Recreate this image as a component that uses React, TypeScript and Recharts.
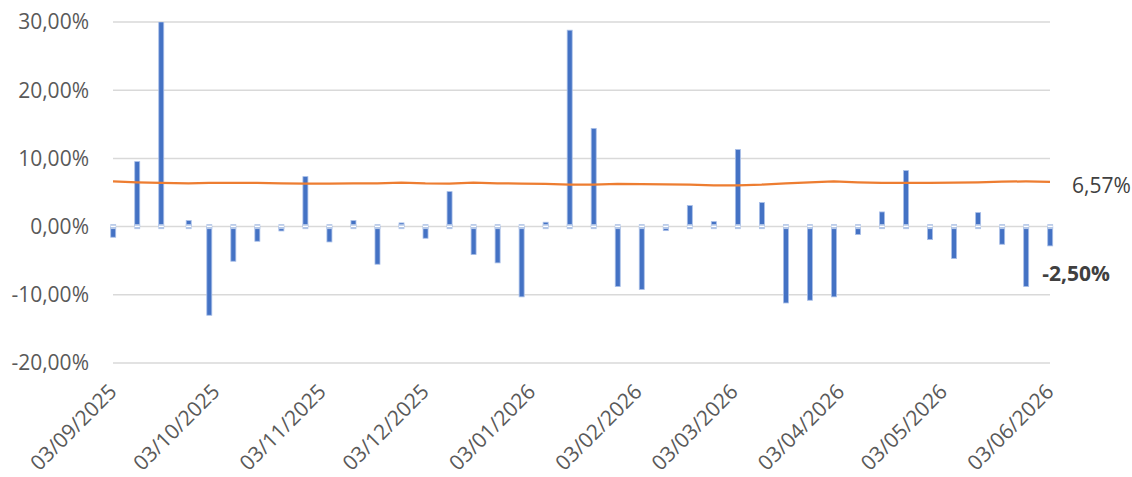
import React from 'react';
import { ComposedChart, Bar, Line, XAxis, YAxis, CartesianGrid, LabelList } from 'recharts';

// weekly observation dates
const weekDates = [
  '2025-09-03', '2025-09-10', '2025-09-17', '2025-09-25', '2025-10-01', '2025-10-08', '2025-10-15', '2025-10-22',
  '2025-10-29', '2025-11-05', '2025-11-12', '2025-11-19', '2025-11-26', '2025-12-03', '2025-12-10', '2025-12-17',
  '2025-12-24', '2025-12-31', '2026-01-07', '2026-01-14', '2026-01-21', '2026-01-28', '2026-02-04', '2026-02-11',
  '2026-02-18', '2026-02-25', '2026-03-04', '2026-03-11', '2026-03-18', '2026-03-25', '2026-04-01', '2026-04-08',
  '2026-04-15', '2026-04-22', '2026-04-29', '2026-05-06', '2026-05-13', '2026-05-20', '2026-05-27', '2026-06-03',
];

// weekly return (%)
const weeklyReturn = [
  -1.56, 9.53, 30.0, 0.88, -13.0, -5.08, -2.15, -0.64,
  7.33, -2.25, 0.88, -5.52, 0.54, -1.71, 5.13, -4.1,
  -5.32, -10.3, 0.64, 28.8, 14.4, -8.79, -9.23, -0.59,
  3.08, 0.73, 11.3, 3.52, -11.2, -10.8, -10.3, -1.17,
  2.15, 8.21, -1.91, -4.69, 2.05, -2.59, -8.79, -2.83,
];

// running average (%)
const avgReturn = [
  6.64, 6.5, 6.4, 6.35, 6.4, 6.42, 6.4, 6.35,
  6.3, 6.3, 6.35, 6.35, 6.45, 6.32, 6.3, 6.45,
  6.35, 6.3, 6.26, 6.16, 6.16, 6.26, 6.24, 6.2,
  6.16, 6.06, 6.06, 6.16, 6.35, 6.5, 6.64, 6.5,
  6.4, 6.4, 6.4, 6.45, 6.5, 6.6, 6.62, 6.57,
];

const lastReturnLabel = -2.5;

const monthTicks = [
  '2025-09-03', '2025-10-03', '2025-11-03', '2025-12-03', '2026-01-03',
  '2026-02-03', '2026-03-03', '2026-04-03', '2026-05-03', '2026-06-03',
];

const yTicks = [-20, -10, 0, 10, 20, 30];

const toDay = (s: string) => {
  const [y, m, d] = s.split('-').map(Number);
  return Date.UTC(y, m - 1, d) / 86400000;
};

const fmtDate = (day: number) => {
  const dt = new Date(day * 86400000);
  const dd = String(dt.getUTCDate()).padStart(2, '0');
  const mm = String(dt.getUTCMonth() + 1).padStart(2, '0');
  return `${dd}/${mm}/${dt.getUTCFullYear()}`;
};

const fmtPct = (v: number) => `${v.toFixed(2).replace('.', ',')}%`;

const data = weekDates.map((d, i) => ({
  day: toDay(d),
  ret: weeklyReturn[i],
  avg: avgReturn[i],
}));

const FONT = '"Open Sans", sans-serif';
const lastIdx = data.length - 1;

const DateTick = (props: any) => {
  const { x, y, payload } = props;
  const ax = x + 5;
  const ay = y + 30;
  return (
    <text
      x={ax}
      y={ay}
      textAnchor="end"
      transform={`rotate(-45, ${ax}, ${ay})`}
      fontFamily={FONT}
      fontSize={21}
      fill="#595959"
    >
      {fmtDate(payload.value)}
    </text>
  );
};

const BarShape = (props: any) => {
  const { x, y, width, height, payload } = props;
  const top = Math.min(y, y + height);
  const bottom = Math.max(y, y + height);
  const zero = payload.ret >= 0 ? bottom : top;
  return (
    <g>
      <rect x={x} y={top} width={width} height={bottom - top} fill="#4472C4" stroke="#a9bfe8" strokeWidth={0.8} />
      <rect x={x - 0.4} y={zero - 2.5} width={width + 0.8} height={5} fill="#b4c7e7" />
      <line x1={x} x2={x + width} y1={zero - 0.3} y2={zero - 0.3} stroke="#ffffff" strokeWidth={1.3} />
    </g>
  );
};

const LineEndLabel = (props: any) => {
  const { x, y, index, value } = props;
  if (index !== lastIdx) return null;
  return (
    <text x={x + 22} y={y + 3} dominantBaseline="central" fontFamily={FONT} fontSize={21} fill="#404040">
      {fmtPct(value)}
    </text>
  );
};

const BarEndLabel = (props: any) => {
  const { x, y, width, height, index } = props;
  if (index !== lastIdx) return null;
  const bottom = Math.max(y, y + height);
  return (
    <text
      x={x + width / 2 - 8}
      y={bottom + 27}
      dominantBaseline="central"
      fontFamily={FONT}
      fontSize={21}
      fontWeight="bold"
      fill="#404040"
    >
      {fmtPct(lastReturnLabel)}
    </text>
  );
};

export default function App() {
  return (
    <div style={{ position: 'absolute', left: 0, top: 0, width: 1132, height: 477, background: '#fff' }}>
      <ComposedChart width={1132} height={477} data={data} margin={{ top: 22, right: 82, left: 0, bottom: 0 }}>
        <CartesianGrid vertical={false} stroke="#d9d9d9" strokeWidth={1.5} />
        <XAxis
          dataKey="day"
          type="number"
          domain={[data[0].day, data[lastIdx].day]}
          ticks={monthTicks.map(toDay)}
          interval={0}
          tick={(p: any) => <DateTick {...p} />}
          axisLine={false}
          tickLine={false}
          tickSize={0}
          tickMargin={0}
          height={114}
        />
        <YAxis
          domain={[-20, 30]}
          ticks={yTicks}
          interval={0}
          allowDataOverflow
          tickFormatter={(v: number) => fmtPct(v)}
          tick={{ fontFamily: FONT, fontSize: 21, fill: '#595959' }}
          axisLine={false}
          tickLine={false}
          tickSize={0}
          tickMargin={24}
          width={113}
        />
        <Bar dataKey="ret" barSize={5} isAnimationActive={false} shape={(p: any) => <BarShape {...p} />}>
          <LabelList dataKey="ret" content={(p: any) => <BarEndLabel {...p} />} />
        </Bar>
        <Line
          dataKey="avg"
          type="linear"
          stroke="#ED7D31"
          strokeWidth={2.25}
          dot={false}
          isAnimationActive={false}
        >
          <LabelList dataKey="avg" content={(p: any) => <LineEndLabel {...p} />} />
        </Line>
      </ComposedChart>
    </div>
  );
}
